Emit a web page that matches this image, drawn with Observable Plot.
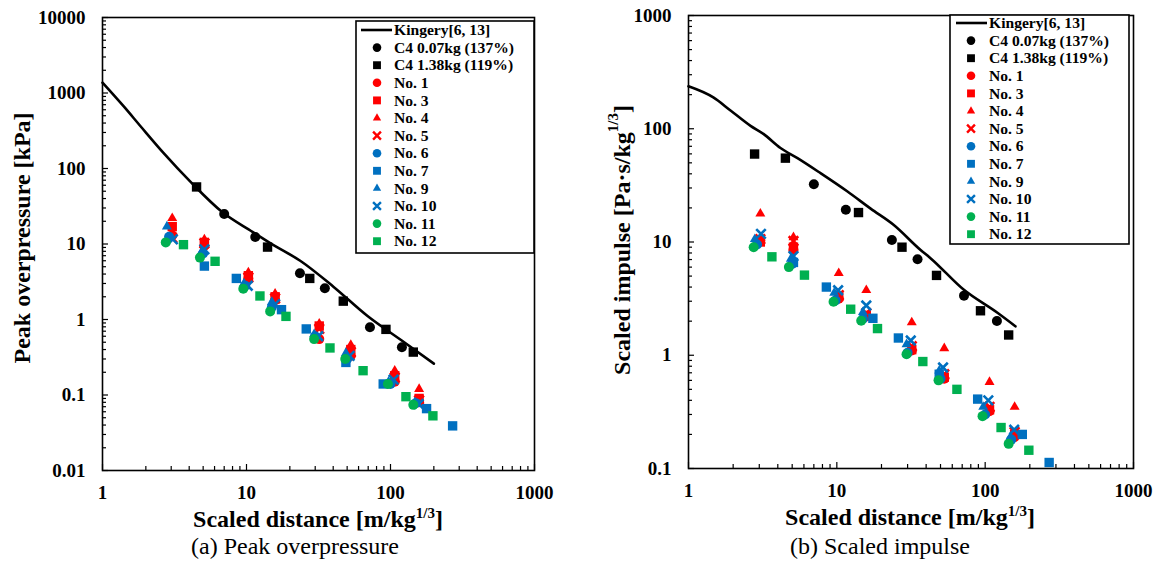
<!DOCTYPE html>
<html><head><meta charset="utf-8">
<script src="https://cdn.jsdelivr.net/npm/d3@7"></script>
<script src="https://cdn.jsdelivr.net/npm/@observablehq/plot@0.6"></script>
<style>
body{margin:0;background:#fff;width:1163px;height:570px;overflow:hidden;position:relative;font-family:"Liberation Serif","Times New Roman",serif;}
.panel{position:absolute;top:0;}
.cap{position:absolute;font-size:24px;text-align:center;color:#000;}
</style></head><body>
<div id="left" class="panel" style="left:0"></div>
<div id="right" class="panel" style="left:580px"></div>
<div class="cap" style="left:0;width:590px;top:533px">(a) Peak overpressure</div>
<div class="cap" style="left:580px;width:600px;top:533px">(b) Scaled impulse</div>
<script>
const FONT = '"Liberation Serif","Times New Roman",serif';

// ---- legend / series definitions ----
const seriesNames = ["Kingery[6, 13]","C4 0.07kg (137%)","C4 1.38kg (119%)","No. 1","No. 3","No. 4","No. 5","No. 6","No. 7","No. 9","No. 10","No. 11","No. 12"];
const seriesColors = ["#000000","#000000","#000000","#ff0000","#ff0000","#ff0000","#ff0000","#0070c0","#0070c0","#0070c0","#0070c0","#00b050","#00b050"];
const seriesSymbols = ["line","circle","square","circle","square","triangle","times","circle","square","triangle","times","circle","square"];

// ---- axis ticks ----
const xMajor = [1, 10, 100, 1000];
const yMajorP = [0.01, 0.1, 1, 10, 100, 1000, 10000];
const yMajorI = [0.1, 1, 10, 100, 1000];

// ---- Kingery curves ----
const kingZp = [1, 1.41, 1.85, 2.65, 4.17, 6.78, 11, 15.2, 23.6, 40.3, 68.9, 119, 200];
const kingP  = [1370, 658, 357, 161, 64, 26.5, 14.5, 9.8, 6.0, 2.7, 1.12, 0.53, 0.26];
const kingZi = [1, 1.47, 1.92, 2.62, 3.2, 4.17, 5.43, 7.77, 11.8, 16.9, 24.1, 36.7, 42.8, 71.5, 121, 160];
const kingI  = [237, 189, 145, 106, 90, 67.6, 55, 40.5, 27.9, 19.7, 14.2, 8.5, 7.2, 3.8, 2.37, 1.8];

// ---- C4 reference tests ----
const xC4a  = [7.0, 11.5, 23.5, 35, 72, 120];
const pC4a  = [25, 12.4, 4.1, 2.6, 0.79, 0.43];
const iC4a  = [32.3, 19.3, 10.4, 7.05, 3.36, 2.01];
const xC4bP = [4.5, 14, 27.5, 47, 93, 144];
const pC4b  = [57, 9.1, 3.5, 1.75, 0.74, 0.37];
const xC4bI = [2.79, 4.5, 14, 27.5, 47, 93, 144];
const iC4b  = [59.8, 55, 18.2, 9.0, 5.07, 2.47, 1.51];

// ---- scaled distances of the test series ----
const xRed  = [3.05, 5.1, 10.3, 15.8, 32, 53, 107, 158];   // No.1, 3, 4, 5
const xNo6  = [2.9, 5.0, 9.8, 15, 30, 50, 100, 150];
const xNo7  = [5.1, 8.5, 17.5, 26, 49, 89, 178, 270];
const xNo9  = [2.8, 4.9, 9.6, 15, 29.5, 49, 97, 148];
const xNo10 = [3.08, 5.1, 10.2, 15.8, 31.5, 52, 105, 157];
const xNo11 = [2.75, 4.75, 9.5, 14.6, 29.5, 48.5, 96, 144];
const xNo12 = [3.65, 6.05, 12.4, 18.8, 38, 64.5, 128, 197];

// ---- peak overpressure [kPa] ----
const pNo1  = [13, 9.5, 3.5, 1.8, 0.55, 0.33, 0.15, 0.08];
const pNo3  = [17, 10.5, 3.8, 2.0, 0.82, 0.4, 0.18, 0.09];
const pNo4  = [22, 11.5, 4.2, 2.2, 0.88, 0.46, 0.21, 0.12];
const pNo5  = [12, 10.2, 3.6, 1.9, 0.75, 0.37, 0.17, 0.085];
const pNo6  = [12.5, 7.5, 2.8, 1.45, 0.6, 0.3, 0.14, 0.078];
const pNo7  = [5.1, 3.5, 1.35, 0.75, 0.27, 0.14, 0.066, 0.039];
const pNo9  = [17, 8.0, 3.0, 1.7, 0.64, 0.36, 0.15, 0.08];
const pNo10 = [11.5, 8.5, 2.8, 1.6, 0.6, 0.33, 0.16, 0.076];
const pNo11 = [10.5, 6.6, 2.55, 1.28, 0.55, 0.3, 0.14, 0.074];
const pNo12 = [9.8, 5.9, 2.05, 1.1, 0.42, 0.21, 0.095, 0.053];

// ---- scaled impulse [Pa·s/kg^1/3] ----
const iNo1  = [10.3, 8.5, 3.15, 2.2, 1.1, 0.62, 0.32, 0.19];
const iNo3  = [10.0, 9.0, 3.3, 2.25, 1.12, 0.64, 0.33, 0.2];
const iNo4  = [17.8, 11.0, 5.3, 3.75, 1.95, 1.15, 0.58, 0.35];
const iNo5  = [10.6, 10.2, 3.4, 2.35, 1.2, 0.68, 0.35, 0.21];
const iNo6  = [9.5, 6.4, 3.05, 2.1, 1.05, 0.62, 0.3, 0.18];
const iNo7  = [6.6, 4.0, 2.12, 1.42, 0.68, 0.41, 0.2, 0.113];
const iNo9  = [10.6, 7.1, 3.55, 2.4, 1.25, 0.73, 0.35, 0.19];
const iNo10 = [11.8, 7.5, 3.75, 2.75, 1.35, 0.78, 0.4, 0.22];
const iNo11 = [9.0, 6.0, 2.97, 2.02, 1.02, 0.6, 0.29, 0.165];
const iNo12 = [7.4, 5.1, 2.55, 1.72, 0.88, 0.5, 0.23, 0.145];

// ---- build tables ----
const zip = (xs, ys) => xs.map((x, i) => ({x, y: ys[i]}));
const pointsP = [null, zip(xC4a, pC4a), zip(xC4bP, pC4b),
  zip(xRed, pNo1), zip(xRed, pNo3), zip(xRed, pNo4), zip(xRed, pNo5),
  zip(xNo6, pNo6), zip(xNo7, pNo7), zip(xNo9, pNo9), zip(xNo10, pNo10),
  zip(xNo11, pNo11), zip(xNo12, pNo12)];
const pointsI = [null, zip(xC4a, iC4a), zip(xC4bI, iC4b),
  zip(xRed, iNo1), zip(xRed, iNo3), zip(xRed, iNo4), zip(xRed, iNo5),
  zip(xNo6, iNo6), zip(xNo7, iNo7), zip(xNo9, iNo9), zip(xNo10, iNo10),
  zip(xNo11, iNo11), zip(xNo12, iNo12)];

function minorTicks(lo, hi) {
  const out = [];
  for (let d = lo; d < hi; d *= 10) for (let k = 2; k <= 9; k++) out.push(+(d * k).toPrecision(3));
  return out;
}
const symR = {circle: 5, square: 5.3, triangle: 3.7, times: 4.4};

function dotMarks(points) {
  const marks = [];
  points.forEach((pts, s) => {
    if (!pts) return;
    const sym = seriesSymbols[s], col = seriesColors[s];
    if (sym === "times") {
      marks.push(Plot.dot(pts, {x: "x", y: "y", symbol: "times", r: symR.times, stroke: col, strokeWidth: 2.6}));
    } else {
      marks.push(Plot.dot(pts, {x: "x", y: "y", symbol: sym, r: symR[sym], fill: col, stroke: "none"}));
    }
  });
  return marks;
}

function makeChart(o) {
  return Plot.plot({
    width: o.width, height: o.height,
    marginLeft: o.ml, marginRight: o.mr, marginTop: o.mt, marginBottom: o.mb,
    x: {type: "log", domain: [1, 1000]},
    y: {type: "log", domain: o.yDomain},
    style: {fontFamily: FONT, fontSize: "19px", fontWeight: "bold", color: "black", background: "white", overflow: "visible"},
    marks: [
      Plot.axisX(minorTicks(1, 1000), {tickSize: -4, tickFormat: () => "", label: null, strokeWidth: 1.2}),
      Plot.axisX(xMajor, {tickSize: -6, tickPadding: 21, tickFormat: d => String(d), label: null, strokeWidth: 1.2}),
      Plot.axisY(minorTicks(o.yDomain[0], o.yDomain[1]), {tickSize: -4, tickFormat: () => "", label: null, strokeWidth: 1.2}),
      Plot.axisY(o.yMajor, {tickSize: -6, tickPadding: 23, tickFormat: d => String(d), label: null, strokeWidth: 1.2}),
      Plot.line(zip(o.kingX, o.kingY), {x: "x", y: "y", stroke: "black", strokeWidth: 2.6, curve: "monotone-x"}),
      ...dotMarks(o.points),
      Plot.frame({stroke: "black", strokeWidth: 1.6})
    ]
  });
}

function decorate(svgNode, o) {
  const svg = d3.select(svgNode);
  // x title
  const xt = svg.append("text").attr("x", o.xTitleX).attr("y", o.xTitleY)
    .attr("text-anchor", "middle").attr("font-family", FONT).attr("font-size", 24).attr("font-weight", "bold").attr("fill", "black");
  xt.append("tspan").text("Scaled distance [m/kg");
  xt.append("tspan").attr("font-size", 15).attr("dy", -9).text("1/3");
  xt.append("tspan").attr("dy", 9).text("]");
  // y title
  const yt = svg.append("text").attr("transform", `translate(${o.yTitleX},${o.yTitleY}) rotate(-90)`)
    .attr("text-anchor", "middle").attr("dominant-baseline", "central").attr("font-family", FONT)
    .attr("font-size", 24).attr("font-weight", "bold").attr("fill", "black");
  yt.append("tspan").text(o.yTitle);
  if (o.yTitleSup) {
    yt.append("tspan").attr("font-size", 15).attr("dy", -9).text(o.yTitleSup);
    yt.append("tspan").attr("dy", 9).text("]");
  }
  // legend
  const g = svg.append("g").attr("text-anchor", "start");
  g.append("rect").attr("x", o.lx0).attr("y", o.ly0).attr("width", o.lx1 - o.lx0).attr("height", o.ly1 - o.ly0)
    .attr("fill", "white").attr("stroke", "black").attr("stroke-width", 1.6);
  seriesNames.forEach((name, k) => {
    const cy = o.lrow0 + k * o.lstep;
    const sym = seriesSymbols[k], col = seriesColors[k];
    if (sym === "line") {
      g.append("line").attr("x1", o.lineX1).attr("x2", o.lineX2).attr("y1", cy).attr("y2", cy)
        .attr("stroke", "black").attr("stroke-width", 2.6);
    } else {
      const type = {circle: d3.symbolCircle, square: d3.symbolSquare, triangle: d3.symbolTriangle, times: d3.symbolTimes}[sym];
      const size = {circle: 58, square: 62, triangle: 30, times: 42}[sym];
      const p = g.append("path").attr("d", d3.symbol(type, size)()).attr("transform", `translate(${o.symX},${cy})`);
      if (sym === "times") p.attr("fill", "none").attr("stroke", col).attr("stroke-width", 2.4);
      else p.attr("fill", col);
    }
    g.append("text").attr("x", o.textX).attr("y", cy).attr("dy", "0.33em").attr("text-anchor", "start")
      .attr("font-family", FONT).attr("font-size", 15.6).attr("font-weight", "bold").attr("fill", "black").text(name);
  });
}

// ---- left chart: peak overpressure ----
const left = makeChart({width: 580, height: 535, ml: 102, mr: 46, mt: 17, mb: 65,
  yDomain: [0.01, 10000], yMajor: yMajorP, kingX: kingZp, kingY: kingP, points: pointsP});
document.getElementById("left").appendChild(left);
decorate(left, {xTitleX: 318, xTitleY: 527, yTitleX: 22, yTitleY: 238, yTitle: "Peak overpressure [kPa]",
  lx0: 356, ly0: 21, lx1: 534, ly1: 253, lrow0: 30, lstep: 17.6, symX: 377, textX: 394, lineX1: 361, lineX2: 392});

// ---- right chart: scaled impulse ----
const right = makeChart({width: 583, height: 535, ml: 108, mr: 30, mt: 15, mb: 67,
  yDomain: [0.1, 1000], yMajor: yMajorI, kingX: kingZi, kingY: kingI, points: pointsI});
document.getElementById("right").appendChild(right);
decorate(right, {xTitleX: 330, xTitleY: 525, yTitleX: 42, yTitleY: 240, yTitle: "Scaled impulse [Pa·s/kg", yTitleSup: "1/3",
  lx0: 370, ly0: 15, lx1: 549, ly1: 244, lrow0: 23, lstep: 17.6, symX: 391, textX: 409, lineX1: 376, lineX2: 407});
</script>
</body></html>
